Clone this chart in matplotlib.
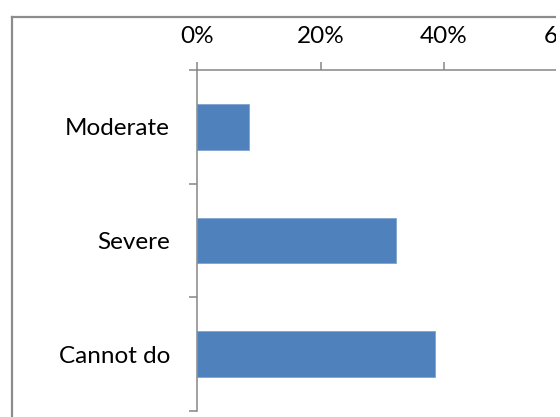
import matplotlib
matplotlib.use("Agg")
import matplotlib.pyplot as plt
from matplotlib.lines import Line2D
from matplotlib.patches import Rectangle
from matplotlib.ticker import FixedLocator, PercentFormatter

categories = ["Moderate", "Severe", "Cannot do"]
values = [8.5, 32.3, 38.5]
xticks = [0, 20, 40, 60]

plt.rcParams['font.family'] = ['Lato', 'DejaVu Sans']

W, H = 560, 417
fig = plt.figure(figsize=(W / 100, H / 100), dpi=100)
fig.patch.set_facecolor("white")

left = 197 / W
right = 567.5 / W
top = 1 - 70 / H
bottom = 1 - 411 / H
ax = fig.add_axes([left, bottom, right - left, top - bottom])

ypos = list(range(len(categories)))
ax.barh(ypos, values, height=0.4, color="#4F81BD", edgecolor="#7FA3D1", linewidth=0.6)
ax.set_xlim(0, 60)
ax.set_ylim(len(categories) - 0.5, -0.5)

gray = "#868686"
for s in ["right", "bottom"]:
    ax.spines[s].set_visible(False)
for s in ["left", "top"]:
    ax.spines[s].set_color(gray)
    ax.spines[s].set_linewidth(1.1)

ax.xaxis.tick_top()
ax.set_xticks(xticks)
ax.xaxis.set_major_formatter(PercentFormatter(decimals=0))
ax.tick_params(axis="x", direction="out", length=6, width=1.1, color=gray,
               labelsize=17.5, pad=10.5, labelcolor="black")

ax.set_yticks(ypos)
ax.set_yticklabels(categories)
ax.yaxis.set_minor_locator(FixedLocator([-0.5, 0.5, 1.5, 2.5]))
ax.tick_params(axis="y", which="major", length=0, labelsize=17.5, pad=19.5, labelcolor="black")
ax.tick_params(axis="y", which="minor", direction="out", length=6, width=1.1, color=gray)
ax.tick_params(axis="x", which="minor", length=0)
ax.spines["left"].set_clip_on(False)

# outer chart frame (cropped)
fc = "#8C8C8C"
fig.add_artist(Line2D([11.5 / W, 11.5 / W], [0, 1 - 16.5 / H], transform=fig.transFigure,
                      color=fc, linewidth=1.6))
fig.add_artist(Line2D([11.5 / W, 1.0], [1 - 16.5 / H, 1 - 16.5 / H], transform=fig.transFigure,
                      color=fc, linewidth=1.6))

# white strip at the right edge where the source image was cropped
fig.add_artist(Rectangle((556 / W, 0), 4 / W, 1, transform=fig.transFigure,
                         facecolor="white", edgecolor="none", zorder=100))

fig.savefig("out.png", dpi=100, facecolor="white")
